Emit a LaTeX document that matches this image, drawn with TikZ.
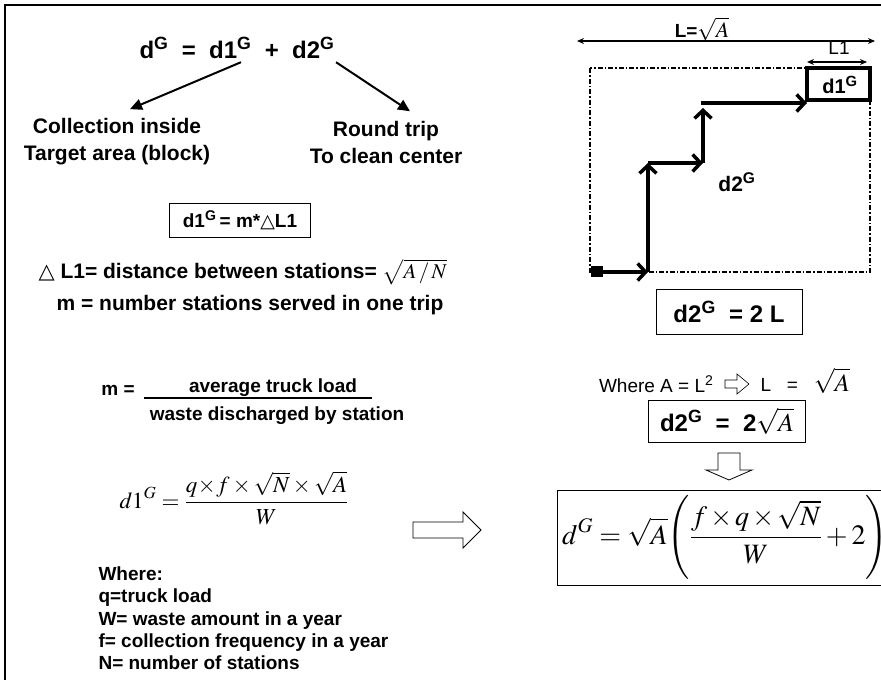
\documentclass[tikz,border=0pt]{standalone}
\usepackage{mathptmx}
\usepackage[no-math]{fontspec}
\setmainfont{Liberation Sans}
\newfontfamily\symbolfont{DejaVu Sans}
\usetikzlibrary{arrows.meta, positioning, calc}
\newcommand{\fsz}[2]{\fontsize{#1}{#2}\selectfont}
\newcommand{\supG}{\textsuperscript{G}}
\newcommand{\tms}{\mkern2mu{\times}\mkern2mu}

\begin{document}
\begin{tikzpicture}[
  x=1pt, y=-1pt,
  ttl/.style={font=\fsz{24}{29}\bfseries},
  lbl/.style={font=\fsz{21}{27}\bfseries, align=center},
  txt/.style={font=\fsz{19}{22.4}\bfseries},
  big/.style={font=\fsz{21}{24}\bfseries},
  reg/.style={font=\fsz{19}{22.4}},
  eqbox/.style={draw, line width=1pt, inner sep=0pt},
  arr/.style={-{Triangle[length=12pt,width=11pt]}, line width=2pt},
  trip/.style={-{Straight Barb[length=8pt,width=17pt]}, line width=3.5pt},
  dimarr/.style={{Stealth[length=7pt,width=6pt]}-{Stealth[length=7pt,width=6pt]}, line width=1.5pt},
  hollow/.style={draw, line width=0.8pt, fill=white},
]
\useasboundingbox (0,0) rectangle (881,680);
% frame
\draw[line width=1.2pt] (5,680) -- (5,5) -- (890,5);

% left column
\node[ttl] (title) at (237,48) {d\supG\ \ =\ \ d1\supG\ \ +\ \ d2\supG};
\node[lbl] (coll)  at (117,142) {Collection inside\\Target area (block)};
\node[lbl] (round) at (386,142) {Round trip\\To clean center};
\draw[arr] ([xshift=4pt]title.south) -- ([xshift=13pt,yshift=6pt]coll.north);
\draw[arr] ([xshift=-2pt]title.south east) -- ([xshift=24pt,yshift=6pt]round.north);

\node[eqbox, minimum width=141pt, minimum height=34pt] (d1box) at (240,220)
  {\fsz{19}{22}\bfseries d1\supG\,= m*{\symbolfont\mdseries △}L1};
\node[big, anchor=west] (delta) at (35,272)
  {{\symbolfont\mdseries △} L1= distance between stations= \mdseries$\sqrt{A\,/\,N}$};
\node[big] (mdef) at (250,305) {m = number stations served in one trip};

\node[txt] (meq)   at (118,390) {m =};
\node[txt] (mnum)  at (273,388) {average truck load};
\node[txt] (mden)  at (277,416) {waste discharged by station};
\draw[line width=1.2pt] (144,398) -- (372,398);

\node[font=\fsz{23}{27}] (d1eq) at (234,498)
  {$\displaystyle d1^{G}=\frac{q\!\times\! f\times\sqrt{N}\times\sqrt{A}}{W}$};
\node[txt, anchor=north west, align=left] (where) at (95,563)
  {Where:\\q=truck load\\W= waste amount in a year\\f= collection frequency in a year\\N= number of stations};

\draw[hollow] (413,522) -- (463,522) -- (463,512) -- (481,530) -- (463,548) -- (463,538) -- (413,538) -- cycle;

% right column: block sketch
\coordinate (tk) at (603,272);
\coordinate (p1) at (648,272);
\coordinate (p2) at (648,163);
\coordinate (p3) at (703,163);
\coordinate (p4) at (703,108);
\coordinate (p5) at (703,103);
\coordinate (p6) at (807,103);
\draw[line width=1.5pt, dash pattern=on 5pt off 2pt on 1.5pt off 2pt] (590,68) rectangle (870,272);
\draw[line width=3.5pt] (807,68) rectangle (870,100);
\node[font=\fsz{20}{24}\bfseries] (d1lbl) at (840,85) {d1\supG};
\draw[dimarr] (807,62) -- (867,62);
\node[font=\fsz{19}{22}] (l1lbl) at (839,48) {L1};
\draw[dimarr] (577,41) -- (875,41);
\node[font=\fsz{19}{22}\bfseries] (llbl) at (702,29) {L=\mdseries\fsz{22}{26}$\sqrt{A}$};
\fill (591,266) rectangle (603,277);
\draw[trip] (tk) -- (p1);
\draw[trip] (p1) -- (p2);
\draw[trip] (p2) -- (p3);
\draw[trip] (p3) -- (p4);
\draw[trip] ([xshift=-1.75pt]p5) -- (p6);
\node[font=\fsz{21}{25}\bfseries] (d2lbl) at (737,182) {d2\supG};

\node[eqbox, minimum width=146pt, minimum height=45pt, font=\fsz{24}{28}\bfseries] (d2box) at (729,312)
  {d2\supG\ \ = 2 L};
\node[reg, anchor=east] (wherea) at (717,384) {Where A = L\textsuperscript{2}};
\draw[hollow, line width=0.6pt] (725,380) -- (737,380) -- (737,374) -- (749,384) -- (737,394) -- (737,388) -- (725,388) -- cycle;
\node[reg, anchor=west] (lsq) at (757,381) {L\ \ \ =\ \ \ \fsz{25}{28}$\sqrt{A}$};
\node[eqbox, minimum width=157pt, minimum height=42pt, font=\fsz{24}{28}\bfseries] (d2sq) at (727,421)
  {d2\supG\ \ =\ \ 2\mdseries\fsz{26}{30}$\sqrt{A}$};
\draw[hollow] (718,453) -- (740,453) -- (740,470) -- (752,470) -- (729,480) -- (706,470) -- (718,470) -- cycle;
\node[eqbox, minimum width=327pt, minimum height=95pt] (dgbox) at (720.5,537.5) {};
\node[font=\fsz{28}{32}, anchor=west, inner sep=0pt] (dgeq) at (562,537)
  {$\displaystyle d^{G}=\sqrt{A}\!\left(\rule[-34pt]{0pt}{84pt}\frac{f\tms q\tms\sqrt{N}}{W}+2\right)$};
\end{tikzpicture}
\end{document}
